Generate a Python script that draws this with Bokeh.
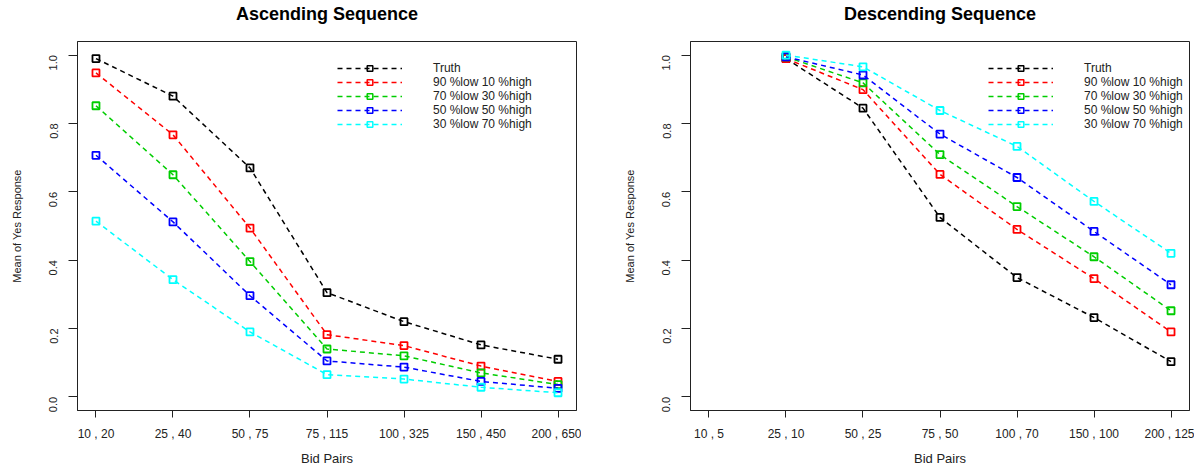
import math
from bokeh.plotting import figure
from bokeh.models import Range1d, FixedTicker, PrintfTickFormatter, Legend, LegendItem, Title
from bokeh.layouts import row
from bokeh.embed import file_html
from bokeh.resources import INLINE

NaN = float("nan")

# ---- data ----
x_idx = [1, 2, 3, 4, 5, 6, 7]
asc_labels = ["10 , 20", "25 , 40", "50 , 75", "75 , 115", "100 , 325", "150 , 450", "200 , 650"]
desc_labels = ["10 , 5", "25 , 10", "50 , 25", "75 , 50", "100 , 70", "150 , 100", "200 , 125"]
series_names = ["Truth", "90 %low 10 %high", "70 %low 30 %high", "50 %low 50 %high", "30 %low 70 %high"]

asc_truth = [0.99, 0.88, 0.67, 0.305, 0.22, 0.152, 0.11]
asc_90 = [0.948, 0.767, 0.494, 0.182, 0.15, 0.09, 0.045]
asc_70 = [0.852, 0.65, 0.396, 0.14, 0.12, 0.07, 0.036]
asc_50 = [0.707, 0.512, 0.296, 0.105, 0.087, 0.045, 0.025]
asc_30 = [0.514, 0.343, 0.19, 0.065, 0.052, 0.028, 0.012]

desc_truth = [NaN, 0.99, 0.845, 0.525, 0.349, 0.232, 0.103]
desc_90 = [NaN, 0.99, 0.899, 0.651, 0.49, 0.346, 0.19]
desc_70 = [NaN, 0.995, 0.919, 0.709, 0.557, 0.41, 0.252]
desc_50 = [NaN, 0.995, 0.942, 0.769, 0.642, 0.484, 0.328]
desc_30 = [NaN, 1.0, 0.966, 0.838, 0.733, 0.572, 0.42]

colors = ["#000000", "#FF0000", "#00CD00", "#0000FF", "#00FFFF"]

FONT = "Liberation Sans"
INK = "#222222"
FW, FH = 499, 369


def make(title, labels, series, border_left, legend_loc):
    p = figure(frame_width=FW, frame_height=FH,
               x_range=Range1d(0.76, 7.24), y_range=Range1d(-0.04, 1.04),
               output_backend="svg", toolbar_location=None,
               min_border_left=border_left, min_border_right=5,
               min_border_top=41, min_border_bottom=54)
    p.background_fill_color = "white"
    p.border_fill_color = "white"
    p.xgrid.visible = False
    p.ygrid.visible = False
    p.outline_line_color = INK
    p.outline_line_width = 1

    p.title.text = title
    p.title.align = "center"
    p.title.text_font = FONT
    p.title.text_font_size = "18px"
    p.title.text_font_style = "bold"
    p.title.text_color = "#000000"
    p.title.standoff = 0
    # thin spacer between the frame and the title
    p.add_layout(Title(text=" ", text_font_size="1px", standoff=15), "above")

    xa = p.xaxis[0]
    xa.ticker = FixedTicker(ticks=x_idx)
    xa.major_label_overrides = {i: lab for i, lab in zip(x_idx, labels)}
    xa.axis_label = "Bid Pairs"
    ya = p.yaxis[0]
    ya.ticker = FixedTicker(ticks=[0.0, 0.2, 0.4, 0.6, 0.8, 1.0])
    ya.formatter = PrintfTickFormatter(format="%.1f")
    ya.axis_label = "Mean of Yes Response"
    ya.major_label_orientation = math.pi / 2

    for ax in (xa, ya):
        ax.axis_line_color = INK
        ax.major_tick_line_color = INK
        ax.minor_tick_line_color = None
        ax.major_tick_in = 0
        ax.major_label_text_font = FONT
        ax.major_label_text_color = INK
        ax.axis_label_text_font = FONT
        ax.axis_label_text_font_style = "normal"
        ax.axis_label_text_color = INK
    xa.major_tick_out = 7
    xa.major_label_standoff = 9
    xa.major_label_text_font_size = "12px"
    xa.axis_label_text_font_size = "13px"
    xa.axis_label_standoff = 7
    ya.major_tick_out = 9
    ya.major_label_standoff = 15
    ya.major_label_text_font_size = "11px"
    ya.axis_label_text_font_size = "11px"
    ya.axis_label_standoff = 20

    items = []
    for name, vals, col in zip(series_names, series, colors):
        ln = p.line(x_idx, vals, line_color=col, line_width=1.5, line_dash="5 4")
        p.scatter(x_idx, vals, marker="square", size=7, line_color=col,
                  line_width=1.8, fill_color=None)
        # hidden copy used only for the (smaller) legend key marker
        key = p.scatter(x_idx, vals, marker="square", size=5, line_color=col,
                        line_width=1.5, fill_color=None, visible=False)
        items.append(LegendItem(label=name, renderers=[ln, key]))

    leg = Legend(items=items, location=legend_loc)
    leg.glyph_width = 65
    leg.glyph_height = 14
    leg.label_height = 14
    leg.spacing = 0
    leg.padding = 0
    leg.margin = 0
    leg.label_standoff = 31
    leg.label_text_font = FONT
    leg.label_text_font_size = "12px"
    leg.label_text_color = INK
    leg.border_line_color = None
    leg.background_fill_alpha = 0
    leg.click_policy = "none"
    p.add_layout(leg, "center")
    return p


p1 = make("Ascending Sequence", asc_labels,
          [asc_truth, asc_90, asc_70, asc_50, asc_30], 77, (260, 279))
p2 = make("Descending Sequence", desc_labels,
          [desc_truth, desc_90, desc_70, desc_50, desc_30], 109, (298, 279))

layout = row(p1, p2)
open("out.html", "w").write(file_html(layout, INLINE))
